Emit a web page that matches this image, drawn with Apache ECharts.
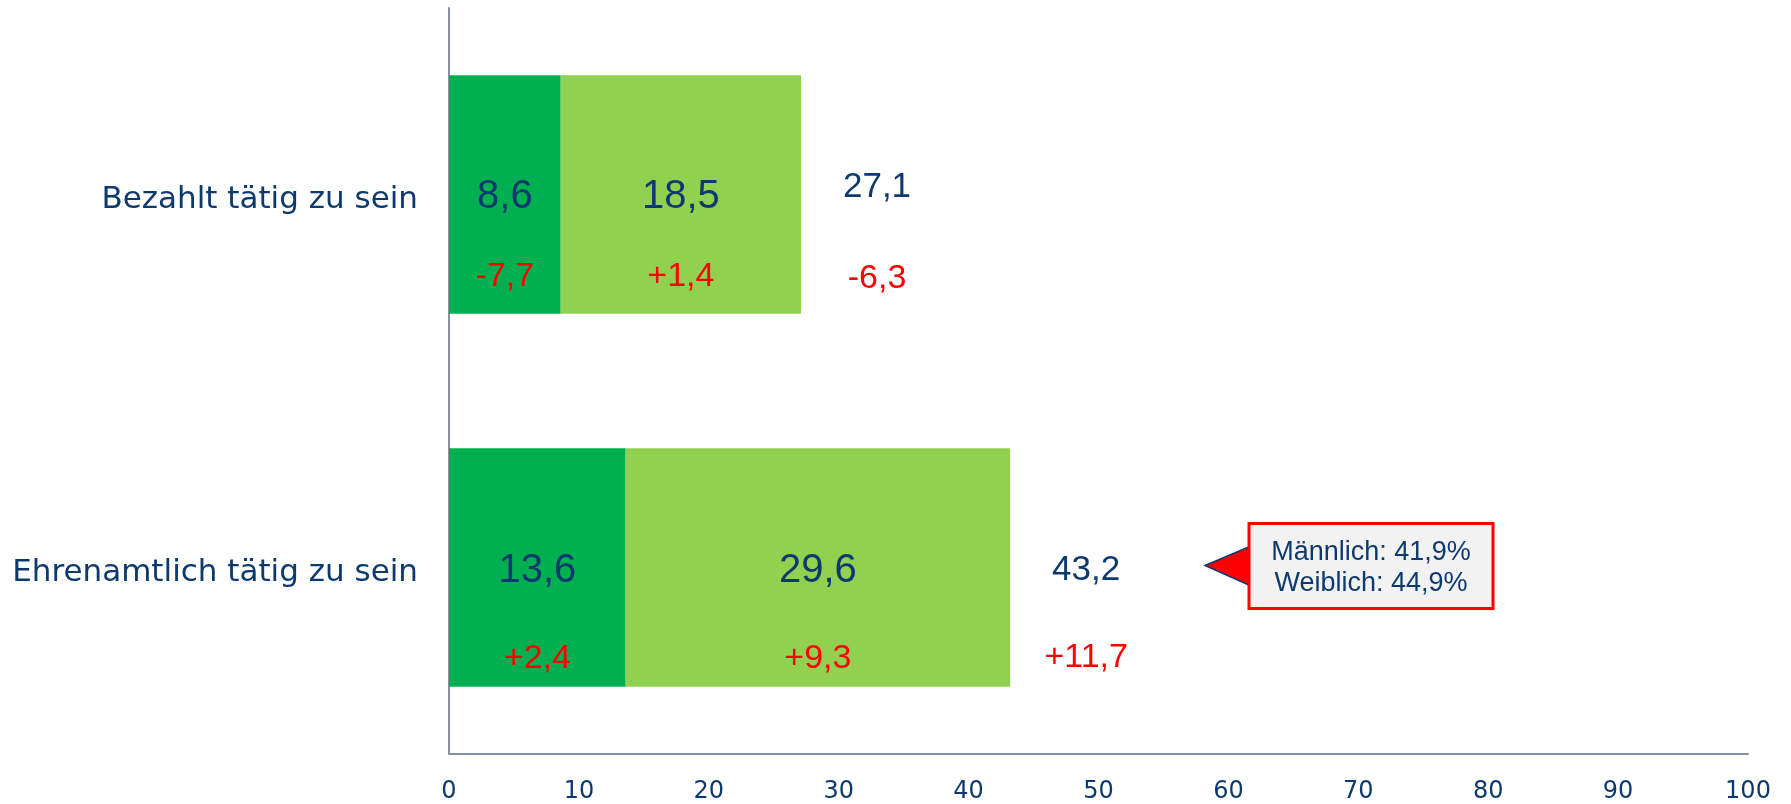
<!DOCTYPE html>
<html><head><meta charset="utf-8">
<script src="https://cdn.jsdelivr.net/npm/echarts@6/dist/echarts.min.js"></script>
<style>html,body{margin:0;padding:0;background:#fff}#c{width:1791px;height:804px}</style>
</head><body><div id="c"></div>
<script>
// ---- data ----
const categories = ['Bezahlt tätig zu sein', 'Ehrenamtlich tätig zu sein'];
const partA = [8.6, 13.6];
const partB = [18.5, 29.6];
const totals = [27.1, 43.2];
const deltaA = ['-7,7', '+2,4'];
const deltaB = ['+1,4', '+9,3'];
const deltaTotal = ['-6,3', '+11,7'];
const xTicks = [0, 10, 20, 30, 40, 50, 60, 70, 80, 90, 100];
const calloutLines = ['Männlich: 41,9%', 'Weiblich: 44,9%'];
const calloutAt = [58.2, categories[1]];

// ---- style ----
const NAVY = '#0D3A6E';
const RED = '#FF0000';
const AXIS = '#8A8FA3';
const SANS = '"Liberation Sans", Arial, sans-serif';
const VERD = '"DejaVu Sans", Verdana, sans-serif';
// per-category label layout tweaks (px): [value-line offset from bar centre, gap between lines]
const segLayout = [[2, 80], [3, 88]];
const totLayout = [[-7, 91], [3, 87]];
const fmt = v => v.toFixed(1).replace('.', ',');

function twoLineLabel(vOff, gap, vSize, dSize, dx) {
  return {
    offset: [dx, vOff - gap / 2],
    rich: {
      v: { fontSize: vSize, lineHeight: gap, color: NAVY, fontFamily: SANS, align: 'center' },
      d: { fontSize: dSize, lineHeight: gap, color: RED, fontFamily: SANS, align: 'center' }
    }
  };
}

function segSeries(values, deltas, color) {
  return {
    type: 'bar', stack: 's', barCategoryGap: '36%',
    itemStyle: { color: color },
    data: values.map((v, i) => ({ value: v, label: twoLineLabel(segLayout[i][0], segLayout[i][1], 40, 34, 0) })),
    label: {
      show: true,
      position: ['50%', '50%'],
      align: 'center',
      verticalAlign: 'top',
      formatter: p => '{v|' + fmt(p.value) + '}\n{d|' + deltas[p.dataIndex] + '}'
    }
  };
}

const chart = echarts.init(document.getElementById('c'));
chart.setOption({
  animation: false,
  backgroundColor: '#fff',
  grid: { left: 449, right: 43, top: 8, bottom: 49, containLabel: false },
  xAxis: {
    type: 'value', min: 0, max: 100, interval: 10,
    splitLine: { show: false },
    axisTick: { show: false },
    axisLine: { show: true, lineStyle: { color: AXIS, width: 2 } },
    axisLabel: {
      color: NAVY, fontSize: 24, fontFamily: VERD, margin: 26,
      formatter: v => xTicks.includes(v) ? String(v) : ''
    }
  },
  yAxis: {
    type: 'category', data: categories, inverse: true,
    axisTick: { show: false },
    axisLine: { show: true, lineStyle: { color: AXIS, width: 2 } },
    axisLabel: {
      margin: 31,
      formatter: v => '{a|' + v + '}',
      rich: { a: { color: NAVY, fontSize: 31, fontFamily: VERD, padding: [10, 0, 0, 0] } }
    }
  },
  series: [
    segSeries(partA, deltaA, '#00B050'),
    segSeries(partB, deltaB, '#92D050'),
    {
      type: 'scatter', symbolSize: 1, itemStyle: { color: 'rgba(0,0,0,0)', opacity: 1 },
      data: totals.map((t, i) => ({ value: [t, categories[i]], label: twoLineLabel(totLayout[i][0], totLayout[i][1], 35, 34, 76) })),
      label: {
        show: true, position: 'inside', align: 'center', verticalAlign: 'top',
        formatter: p => '{v|' + fmt(p.value[0]) + '}\n{d|' + deltaTotal[p.dataIndex] + '}'
      }
    }
  ]
});

// callout anchored to data coordinates
const p = chart.convertToPixel({ xAxisIndex: 0, yAxisIndex: 0 }, calloutAt);
const tx = p[0], ty = p[1] - 2;
const bx = tx + 44, bw = 244, btop = p[1] - 44, bh = 85;
chart.setOption({
  graphic: [
    {
      type: 'polygon', z: 100,
      shape: { points: [[tx, ty], [bx + 1, ty - 19], [bx + 1, ty + 20]] },
      style: { fill: RED, stroke: NAVY, lineWidth: 1.5 }
    },
    {
      type: 'rect', z: 101,
      shape: { x: bx, y: btop, width: bw, height: bh },
      style: { fill: '#F2F2F2', stroke: RED, lineWidth: 3 }
    },
    {
      type: 'text', z: 102,
      x: bx + bw / 2, y: p[1] + 0.5,
      style: {
        text: calloutLines.join('\n'), fill: NAVY, font: '27px ' + SANS,
        align: 'center', verticalAlign: 'middle', lineHeight: 31
      }
    }
  ]
});
</script>
</body></html>
